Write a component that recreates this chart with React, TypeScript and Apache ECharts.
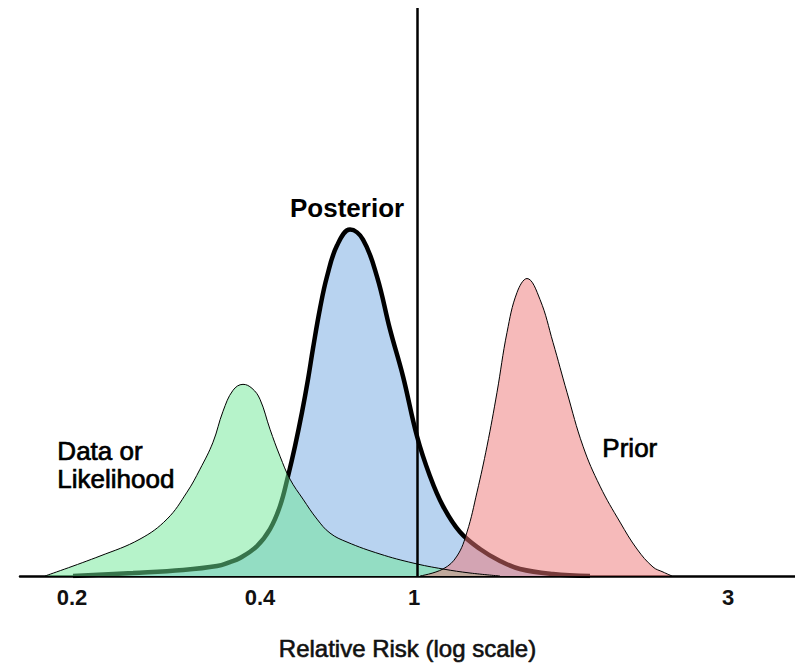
import React, { useEffect, useRef } from "react";
import * as echarts from "echarts";

// x: horizontal position along the (illustrative) log-scale axis, y: relative density height
const posteriorX = [73, 133, 183, 217, 230, 240, 257, 270, 280, 288, 295, 302, 308, 313, 320, 327, 337, 350, 363, 377, 390, 403, 417, 430, 443, 460, 480, 500, 520, 553, 590];
const posteriorY = [0, 3, 6, 10, 14, 18, 30, 47, 70, 100, 130, 164, 197, 228, 268, 300, 331, 347, 337, 300, 247, 200, 140, 100, 70, 44, 27, 15, 7, 2, 0];

const likelihoodX = [45, 100, 140, 167, 187, 200, 213, 223, 233, 243, 252, 260, 270, 280, 290, 303, 317, 330, 347, 380, 413, 443, 470, 500];
const likelihoodY = [0, 20, 37, 57, 84, 107, 134, 165, 186, 192, 188, 177, 147, 120, 97, 77, 57, 43, 34, 22, 13, 7, 3, 0];

const priorX = [420, 443, 457, 467, 477, 487, 497, 507, 517, 527, 540, 553, 567, 583, 600, 620, 637, 653, 663, 672];
const priorY = [0, 7, 20, 44, 84, 130, 184, 244, 284, 298, 277, 234, 184, 130, 90, 54, 27, 9, 4, 0];

const tickPositions = [72, 260, 414, 728];
const tickLabels = ["0.2", "0.4", "1", "3"];
const nullLine = 417; // RR = 1

const FONT = "'Liberation Sans', Arial, sans-serif";

const zip = (xs: number[], ys: number[]) => xs.map((x, i) => [x, ys[i]]);

export default function App() {
  const ref = useRef<HTMLDivElement>(null);
  useEffect(() => {
    if (!ref.current) return;
    const chart = echarts.init(ref.current, null, { renderer: "svg" });
    chart.setOption({
      animation: false,
      backgroundColor: "#ffffff",
      grid: { left: 20, right: 0, top: 8, bottom: 89 },
      xAxis: {
        type: "value",
        min: 20,
        max: 795,
        splitLine: { show: false },
        axisLine: { show: true, onZero: false, lineStyle: { color: "#000", width: 2.5 } },
        axisTick: { show: false },
        axisLabel: { show: false },
        name: "Relative Risk (log scale)",
        nameLocation: "middle",
        nameGap: 60,
        nameTextStyle: {
          color: "#111",
          fontFamily: FONT,
          fontSize: 24,
          lineHeight: 25,
          textBorderColor: "#111",
          textBorderWidth: 0.6,
        },
      },
      yAxis: { type: "value", min: 0, max: 569, show: false, splitLine: { show: false } },
      series: [
        {
          name: "Posterior",
          type: "line",
          data: zip(posteriorX, posteriorY),
          smooth: 0.4,
          symbol: "none",
          lineStyle: { color: "#000", width: 4.5 },
          areaStyle: { color: "#b8d3f0", opacity: 1 },
          z: 2,
          markLine: {
            silent: true,
            symbol: "none",
            label: { show: false },
            lineStyle: { color: "#000", width: 2.5, type: "solid" },
            data: [{ xAxis: nullLine }],
          },
        },
        {
          name: "Data or Likelihood",
          type: "line",
          data: zip(likelihoodX, likelihoodY),
          smooth: 0.4,
          symbol: "none",
          lineStyle: { color: "#000", width: 1 },
          areaStyle: { color: "rgb(110,232,150)", opacity: 0.5 },
          z: 3,
        },
        {
          name: "Prior",
          type: "line",
          data: zip(priorX, priorY),
          smooth: 0.4,
          symbol: "none",
          lineStyle: { color: "#000", width: 1 },
          areaStyle: { color: "rgb(238,118,118)", opacity: 0.5 },
          z: 3,
        },
      ],
    });

    // tick labels placed through the x-axis scale
    const baseY = chart.convertToPixel({ yAxisIndex: 0 }, 0) as number;
    const tickTexts = tickPositions.map((v, i) => ({
      type: "text",
      x: chart.convertToPixel({ xAxisIndex: 0 }, v) as number,
      y: baseY + 21,
      style: {
        text: tickLabels[i],
        font: `bold 22px ${FONT}`,
        fill: "#111",
        align: "center",
        verticalAlign: "middle",
      },
    }));

    chart.setOption({
      graphic: [
        ...tickTexts,
        {
          type: "text",
          left: 290,
          top: 195,
          style: { text: "Posterior", font: `bold 26px ${FONT}`, fill: "#000" },
        },
        {
          type: "text",
          left: 57,
          top: 437,
          style: {
            text: "Data or\nLikelihood",
            font: `26px ${FONT}`,
            lineHeight: 28,
            fill: "#000",
            stroke: "#000",
            lineWidth: 0.7,
          },
        },
        {
          type: "text",
          left: 602,
          top: 435,
          style: { text: "Prior", font: `26px ${FONT}`, fill: "#000", stroke: "#000", lineWidth: 0.7 },
        },
      ],
    });
    return () => chart.dispose();
  }, []);
  return <div ref={ref} style={{ width: 795, height: 666, position: "absolute", left: 0, top: 0 }} />;
}
